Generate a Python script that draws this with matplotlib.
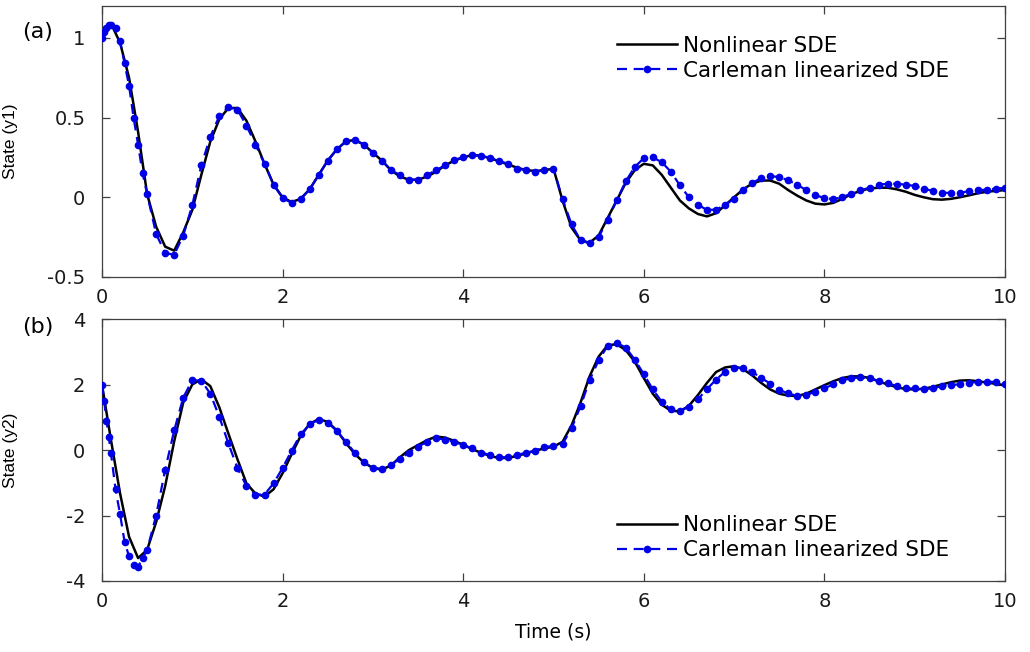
"""Nonlinear SDE vs Carleman linearized SDE, two-state response."""

import numpy as np
import matplotlib
matplotlib.use("Agg")
import matplotlib.pyplot as plt

# time grids
t_nl = np.round(np.linspace(0, 10, 101), 2)
t_cl = np.concatenate([[0.0, 0.025, 0.05, 0.075, 0.1, 0.15, 0.2, 0.25, 0.3, 0.35, 0.4, 0.45],
                       np.round(np.linspace(0.5, 10, 96), 2)])

# state y1, nonlinear SDE (t = 0, 0.1, ..., 10)
y1_nl = [
    1.00, 1.09, 0.97, 0.75, 0.41, 0.02, -0.185, -0.31, -0.335, -0.22,
    -0.08, 0.14, 0.35, 0.49, 0.56, 0.56, 0.48, 0.35, 0.21, 0.08,
    0.00, -0.03, -0.01, 0.05, 0.14, 0.23, 0.30, 0.35, 0.36, 0.33,
    0.28, 0.23, 0.17, 0.13, 0.11, 0.11, 0.13, 0.16, 0.20, 0.23,
    0.25, 0.265, 0.26, 0.245, 0.225, 0.205, 0.185, 0.17, 0.165, 0.17,
    0.18, -0.02, -0.19, -0.27, -0.285, -0.24, -0.13, -0.02, 0.09, 0.17,
    0.21, 0.20, 0.14, 0.06, -0.02, -0.07, -0.105, -0.12, -0.10, -0.05,
    0.00, 0.05, 0.085, 0.105, 0.105, 0.085, 0.045, 0.01, -0.02, -0.04,
    -0.045, -0.035, -0.01, 0.02, 0.04, 0.055, 0.06, 0.06, 0.05, 0.035,
    0.015, 0.00, -0.012, -0.015, -0.01, 0.00, 0.012, 0.025, 0.035, 0.04,
    0.045,
]

# state y1, Carleman linearized SDE (t_cl)
y1_cl = [
    1.00, 1.04, 1.065, 1.08, 1.08, 1.06, 0.98, 0.84, 0.70, 0.50, 0.33, 0.15,
    0.02, -0.23, -0.35, -0.36, -0.24,
    -0.05, 0.20, 0.38, 0.51, 0.565, 0.55, 0.45, 0.33, 0.21, 0.08,
    -0.005, -0.035, -0.01, 0.05, 0.14, 0.23, 0.30, 0.35, 0.36, 0.33,
    0.28, 0.23, 0.17, 0.14, 0.11, 0.11, 0.14, 0.17, 0.20, 0.235,
    0.25, 0.267, 0.26, 0.247, 0.227, 0.21, 0.18, 0.17, 0.16, 0.17,
    0.18, -0.01, -0.17, -0.27, -0.29, -0.25, -0.14, -0.02, 0.10, 0.19,
    0.245, 0.25, 0.22, 0.16, 0.075, 0.00, -0.046, -0.08, -0.077, -0.05,
    -0.008, 0.044, 0.09, 0.12, 0.133, 0.127, 0.106, 0.079, 0.044, 0.0125,
    -0.004, -0.0125, 0.002, 0.023, 0.044, 0.06, 0.079, 0.085, 0.085, 0.079,
    0.071, 0.054, 0.04, 0.029, 0.027, 0.029, 0.0375, 0.044, 0.048, 0.054,
    0.06,
]

# state y2, nonlinear SDE (t = 0, 0.1, ..., 10)
y2_nl = [
    2.00, 0.30, -1.32, -2.65, -3.30, -3.05, -2.20, -1.10, 0.27, 1.45,
    2.00, 2.16, 1.95, 1.30, 0.50, -0.28, -1.02, -1.33, -1.42, -1.20,
    -0.71, -0.13, 0.43, 0.80, 0.945, 0.86, 0.60, 0.22, -0.12, -0.38,
    -0.55, -0.60, -0.47, -0.22, 0.00, 0.15, 0.30, 0.41, 0.38, 0.28,
    0.16, 0.03, -0.09, -0.18, -0.25, -0.24, -0.18, -0.10, -0.02, 0.05,
    0.10, 0.25, 0.75, 1.45, 2.25, 2.85, 3.20, 3.23, 3.05, 2.70,
    2.20, 1.72, 1.38, 1.20, 1.18, 1.35, 1.68, 2.05, 2.38, 2.52,
    2.56, 2.47, 2.28, 2.05, 1.85, 1.72, 1.66, 1.65, 1.72, 1.85,
    1.98, 2.10, 2.20, 2.25, 2.25, 2.20, 2.10, 2.00, 1.92, 1.86,
    1.85, 1.87, 1.93, 2.00, 2.07, 2.12, 2.13, 2.10, 2.06, 2.02,
    1.98,
]

# state y2, Carleman linearized SDE (t_cl)
y2_cl = [
    2.00, 1.50, 0.90, 0.40, -0.10, -1.20, -1.95, -2.80, -3.25, -3.52, -3.56, -3.30,
    -3.05, -2.00, -0.60, 0.60, 1.60,
    2.13, 2.12, 1.72, 1.01, 0.20, -0.55, -1.10, -1.37, -1.36, -1.02,
    -0.55, -0.02, 0.48, 0.78, 0.93, 0.83, 0.59, 0.25, -0.08, -0.38,
    -0.54, -0.58, -0.45, -0.27, -0.08, 0.10, 0.25, 0.355, 0.32, 0.25,
    0.15, 0.05, -0.08, -0.15, -0.22, -0.22, -0.15, -0.08, -0.02, 0.10,
    0.12, 0.18, 0.66, 1.34, 2.13, 2.74, 3.18, 3.27, 3.13, 2.76,
    2.32, 1.85, 1.47, 1.24, 1.20, 1.32, 1.55, 1.86, 2.15, 2.39,
    2.51, 2.51, 2.39, 2.20, 2.03, 1.83, 1.73, 1.65, 1.68, 1.78,
    1.88, 2.01, 2.13, 2.19, 2.22, 2.19, 2.11, 2.05, 1.95, 1.88,
    1.88, 1.86, 1.88, 1.95, 1.98, 2.01, 2.05, 2.08, 2.08, 2.08,
    2.03,
]

x_ticks = [0, 2, 4, 6, 8, 10]
y1_ticks = [-0.5, 0, 0.5, 1]
y1_ticklabels = ["-0.5", "0", "0.5", "1"]
y2_ticks = [-4, -2, 0, 2, 4]
y2_ticklabels = ["-4", "-2", "0", "2", "4"]

plt.rcParams.update({
    "font.family": ["DejaVu Sans"],
    "axes.edgecolor": "#404040",
    "axes.linewidth": 0.9,
    "xtick.color": "#404040",
    "ytick.color": "#404040",
    "xtick.labelcolor": "#1a1a1a",
    "ytick.labelcolor": "#1a1a1a",
})

BLUE = "#0000e6"

fig = plt.figure(figsize=(10.3, 6.52), dpi=100)
ax1 = fig.add_axes([0.099, 0.5752, 0.8767, 0.4156])
ax2 = fig.add_axes([0.099, 0.1089, 0.8767, 0.4018])

panels = [
    (ax1, y1_nl, y1_cl, (-0.5, 1.2), y1_ticks, y1_ticklabels,
     "State (y1)", "upper left", (0.570, 0.89)),
    (ax2, y2_nl, y2_cl, (-4, 4), y2_ticks, y2_ticklabels,
     "State (y2)", "lower left", (0.570, 0.08)),
]

for ax, nl, cl, ylim, yt, ytl, ylabel, loc, anchor in panels:
    ax.plot(t_nl, nl, color="black", linewidth=1.8, label="Nonlinear SDE", zorder=3)
    ax.plot(t_cl, cl, color=BLUE, linestyle=(0, (4.5, 3)), linewidth=1.6,
            marker="o", markersize=4.5, markerfacecolor=BLUE,
            markeredgecolor=BLUE, label="Carleman linearized SDE", zorder=4)
    ax.set_xlim(0, 10)
    ax.set_ylim(*ylim)
    ax.set_xticks(x_ticks)
    ax.set_yticks(yt)
    ax.set_yticklabels(ytl)
    ax.tick_params(direction="in", length=6, width=0.9, top=True, right=True,
                   labelsize=14)
    ax.tick_params(axis="x", pad=8)
    ax.tick_params(axis="y", pad=12)
    ax.set_ylabel(ylabel, fontsize=12.5, family=["Liberation Sans", "DejaVu Sans"])
    ax.yaxis.set_label_coords(-0.093, 0.5)
    ax.legend(loc=loc, bbox_to_anchor=anchor, frameon=False, fontsize=15.5,
              handlelength=2.8, handletextpad=0.3, labelspacing=0.22,
              borderpad=0.0, borderaxespad=0.0)

fig.text(22 / 1030, 1 - 32 / 652, "(a)", fontsize=16, va="center", ha="left")
fig.text(22 / 1030, 1 - 327 / 652, "(b)", fontsize=16, va="center", ha="left")

ax2.set_xlabel("Time (s)", fontsize=13.5, labelpad=8)

fig.savefig("out.png", dpi=100)
